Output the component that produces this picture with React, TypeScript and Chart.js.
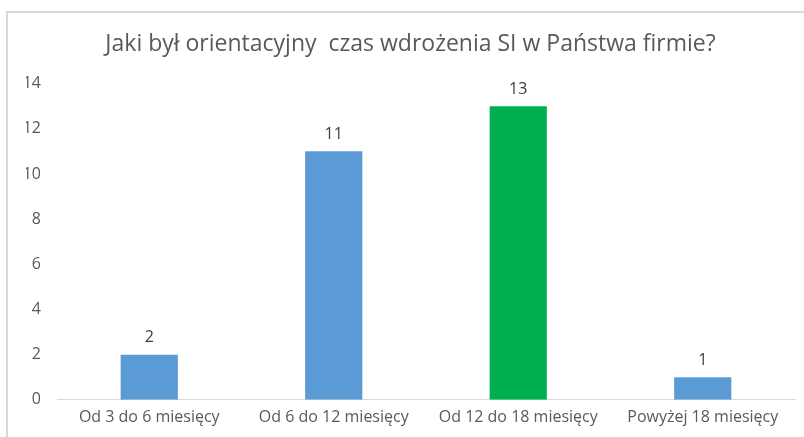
import React, { useEffect, useRef } from "react";
import { Chart, registerables } from "chart.js";

Chart.register(...registerables);

const TITLE = "Jaki był orientacyjny  czas wdrożenia SI w Państwa firmie?";
const categories = ["Od 3 do 6 miesięcy", "Od 6 do 12 miesięcy", "Od 12 do 18 miesięcy", "Powyżej 18 miesięcy"];
const values = [2, 11, 13, 1];
const barColors = ["#5B9BD5", "#5B9BD5", "#00B050", "#5B9BD5"];

const FONT = "'Open Sans', sans-serif";

const framePlugin = {
  id: "frame",
  beforeDraw(chart: any) {
    const ctx = chart.ctx;
    ctx.save();
    ctx.fillStyle = "#ffffff";
    ctx.fillRect(0, 0, chart.width, chart.height);
    ctx.strokeStyle = "#d9d9d9";
    ctx.lineWidth = 2;
    ctx.beginPath();
    ctx.moveTo(6, 12);
    ctx.lineTo(chart.width, 12);
    ctx.moveTo(7, 12);
    ctx.lineTo(7, chart.height);
    ctx.stroke();
    ctx.restore();
  },
};

const labelPlugin = {
  id: "valueLabels",
  afterDatasetsDraw(chart: any) {
    const ctx = chart.ctx;
    const meta = chart.getDatasetMeta(0);
    ctx.save();
    ctx.font = `16px ${FONT}`;
    ctx.fillStyle = "#404040";
    ctx.textAlign = "center";
    ctx.textBaseline = "bottom";
    meta.data.forEach((bar: any, i: number) => {
      ctx.fillText(String(values[i]), bar.x, bar.y - 9);
    });
    ctx.restore();
  },
};

export default function App() {
  const ref = useRef<HTMLCanvasElement>(null);
  useEffect(() => {
    document.body.style.margin = "0";
    const chart = new Chart(ref.current!, {
      type: "bar",
      data: {
        labels: categories,
        datasets: [
          {
            data: values,
            backgroundColor: barColors,
            barPercentage: 0.31,
            categoryPercentage: 1,
          },
        ],
      },
      options: {
        animation: false,
        responsive: false,
        layout: { padding: { left: 26, right: 9, top: 0, bottom: 2 } },
        plugins: {
          legend: { display: false },
          tooltip: { enabled: false },
          title: {
            display: true,
            text: TITLE,
            color: "#595959",
            font: { family: FONT, size: 23, weight: "normal", lineHeight: 1.2 },
            padding: { top: 31, bottom: 25 },
          },
        },
        scales: {
          x: {
            grid: { display: false, drawTicks: false },
            border: { display: true, color: "#d9d9d9", width: 1 },
            ticks: { color: "#595959", font: { family: FONT, size: 16 }, padding: 8, maxRotation: 0 },
          },
          y: {
            min: 0,
            max: 14,
            afterFit(axis: any) {
              axis.width = 31;
            },
            grid: { display: false, drawTicks: false },
            border: { display: false },
            ticks: { stepSize: 2, color: "#595959", font: { family: FONT, size: 16 }, padding: 16 },
          },
        },
      },
      plugins: [framePlugin, labelPlugin],
    });
    return () => chart.destroy();
  }, []);
  return <canvas ref={ref} width={804} height={437} style={{ display: "block" }} />;
}
